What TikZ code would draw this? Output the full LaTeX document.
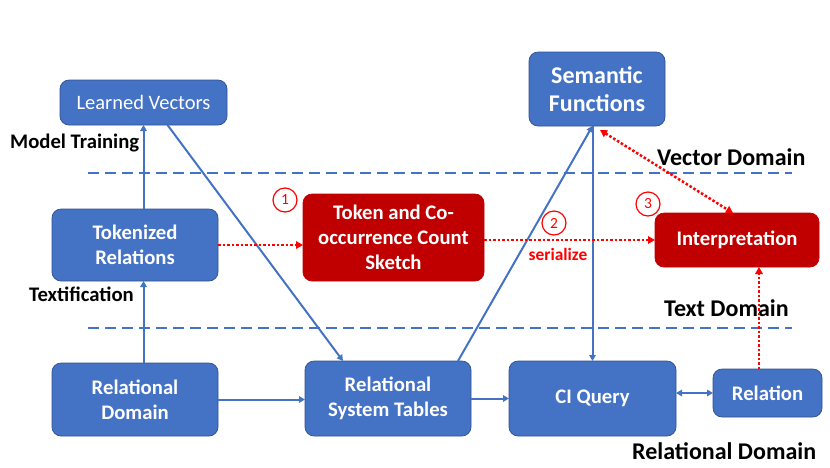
\documentclass[tikz,border=0pt]{standalone}
\usepackage{fontspec}
\setmainfont{Carlito}
\usetikzlibrary{arrows.meta,calc}
\definecolor{cblue}{HTML}{4472C4}
\definecolor{cborder}{HTML}{2F528F}
\definecolor{cred}{HTML}{C00000}
\definecolor{dred}{HTML}{FF0000}
\begin{document}
\begin{tikzpicture}[x=1pt,y=-1pt,
 bbox/.style={rectangle, rounded corners=9pt, fill=cblue, draw=cborder, line width=0.7pt, text=white, align=center, font=\fontsize{20.7}{25}\selectfont\bfseries, inner sep=0pt, outer sep=0pt},
 rbox/.style={bbox, fill=cred, draw=cred},
 lbl/.style={font=\fontsize{20.7}{24}\selectfont\bfseries, inner sep=0pt, anchor=west},
 biglbl/.style={lbl, font=\fontsize{24}{27}\selectfont\bfseries},
 bar/.style={draw=cblue, line width=2pt, dash pattern=on 11pt off 6pt},
 conn/.style={draw=cblue, line width=2pt, -{Triangle[length=6pt,width=6.5pt]}},
 dconn/.style={conn, {Triangle[length=6pt,width=6.5pt]}-{Triangle[length=6pt,width=6.5pt]}},
 rconn/.style={draw=dred, line width=2.5pt, dash pattern=on 2.5pt off 2pt, -{Triangle[length=7pt,width=7.5pt]}},
 rdconn/.style={rconn, {Triangle[length=7pt,width=7.5pt]}-{Triangle[length=7pt,width=7.5pt]}},
 num/.style={circle, draw=dred, text=dred, line width=1.2pt, minimum size=24pt, inner sep=0pt, font=\fontsize{15.5}{17}\selectfont}]
\useasboundingbox (0,0) rectangle (830,467);

% domain separators
\coordinate (d1a) at (88,173);
\coordinate (d1b) at (792,173);
\coordinate (d2a) at (88,328);
\coordinate (d2b) at (792,328);
\draw[bar] (d1a) -- (d1b);
\draw[bar] (d2a) -- (d2b);

% nodes
\node[bbox, font=\fontsize{20.5}{24}\selectfont, minimum width=167pt, minimum height=45pt] (lv) at (143.5,102.5) {Learned Vectors};
\node[bbox, font=\fontsize{24}{28}\selectfont\bfseries, minimum width=136pt, minimum height=74pt] (sf) at (597,89) {Semantic\\Functions};
\node[bbox, minimum width=166pt, minimum height=72pt] (tr) at (135,245) {Tokenized\\Relations};
\node[rbox, minimum width=181pt, minimum height=87pt] (tc) at (393.5,237.5) {Token and Co-\\occurrence Count\\Sketch};
\node[rbox, minimum width=164pt, minimum height=54pt] (ip) at (737,240) {Interpretation};
\node[bbox, minimum width=166pt, minimum height=73pt] (rd) at (135,399.5) {Relational\\Domain};
\node[bbox, minimum width=166pt, minimum height=75pt] (rst) at (388,398.5) {Relational\\System Tables};
\node[bbox, minimum width=167pt, minimum height=75pt] (ci) at (592.5,398.5) {CI Query};
\node[bbox, minimum width=109pt, minimum height=48pt] (rel) at (767.5,393) {Relation};

% labels
\node[lbl] (mt) at (10,143) {Model Training};
\node[lbl] (tx) at (29,294) {Textification};
\node[biglbl] (vd) at (657,157) {Vector Domain};
\node[biglbl] (td) at (664,308) {Text Domain};
\node[biglbl] (rdl) at (632,451) {Relational Domain};
\node[font=\fontsize{17.4}{19}\selectfont\bfseries, text=dred, inner sep=0pt] (ser) at (558,254) {serialize};
\node[num] (n1) at (285,200) {1};
\node[num] (n2) at (554,223) {2};
\node[num] (n3) at (648,204) {3};

% blue connectors
\draw[conn] (tr.north -| lv.south) -- (lv.south);
\draw[conn] (rd.north -| lv.south) -- (tr.south -| lv.south);
\draw[conn] ($(lv.south)+(24,0)$) -- ($(rst.north)+(-45,0)$);
\draw[conn] (rd.east) -- (rd.east -| rst.west);
\draw[conn] (rst.east) -- (ci.west);
\draw[conn] ($(rst.north east)+(-13,0)$) -- (sf.south -| ci.north);
\draw[conn] (sf.south -| ci.north) -- (ci.north);
\draw[dconn] (ci.east |- rel.west) -- (rel.west);

% red connectors
\draw[rconn] (tr.east) -- (tr.east -| tc.west);
\draw[rconn] (tc.east |- ip.west) -- (ip.west);
\draw[rdconn] ($(sf.south)+(3,4)$) -- ($(ip.north)+(-4,0)$);
\coordinate (relt) at ($(rel.north)+(-8.5,0)$);
\draw[rconn] (relt) -- (relt |- ip.south);
\end{tikzpicture}
\end{document}
